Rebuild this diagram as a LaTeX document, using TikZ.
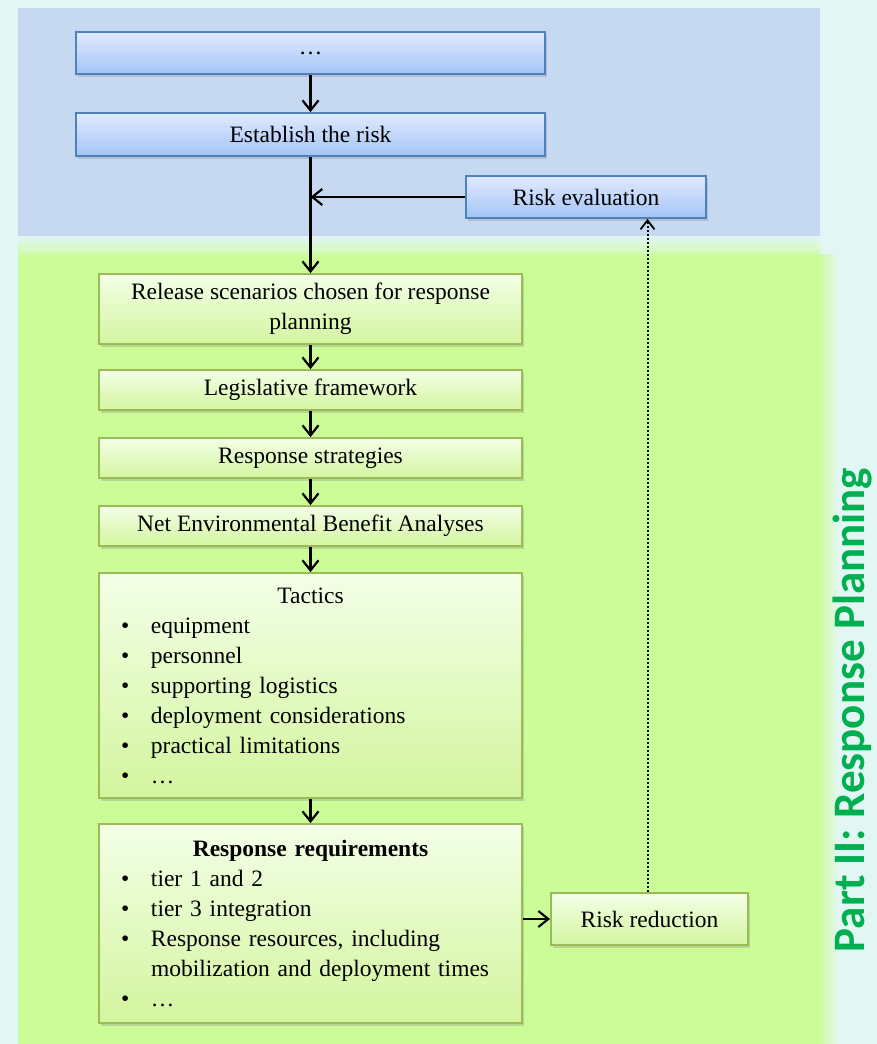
\documentclass[tikz,border=0pt]{standalone}
\usepackage{fontspec}
\setmainfont{Liberation Serif}
\newfontfamily\partfont{Carlito}
\usetikzlibrary{arrows.meta,shadows}

\definecolor{bgcyan}{HTML}{E2F6F4}
\definecolor{panelblue}{HTML}{C6D9F0}
\definecolor{panelgreen}{HTML}{CCFC98}
\definecolor{blueedge}{HTML}{4F81BD}
\definecolor{bluetop}{HTML}{E0EAFF}
\definecolor{bluebot}{HTML}{A4C4F5}
\definecolor{greenedge}{HTML}{9BBB59}
\definecolor{greentop}{HTML}{F3FFE8}
\definecolor{greenbot}{HTML}{D3F59E}
\definecolor{partgreen}{HTML}{00B050}

% bullet line with hanging indent for wrapped text
\newcommand\bitem[1]{\par\noindent\hangindent=42pt\hangafter=1\hspace*{12pt}\makebox[30pt][l]{\textbullet}#1}

\tikzset{
  box/.style={draw, line width=1.8pt, inner xsep=10pt, inner ysep=4pt,
    align=center, font=\fontsize{23.5}{30}\selectfont,
    drop shadow={shadow xshift=2pt, shadow yshift=-3pt, opacity=0.3}},
  bluebox/.style={box, draw=blueedge, top color=bluetop, bottom color=bluebot},
  greenbox/.style={box, draw=greenedge, top color=greentop, bottom color=greenbot},
  flow/.style={line width=2.4pt, -{Straight Barb[length=10pt,width=16pt,line width=2.2pt]}},
  backflow/.style={line width=2pt, dash pattern=on 2pt off 2pt,
    -{Straight Barb[length=9pt,width=14pt,line width=1.8pt]}}
}

\begin{document}
\begin{tikzpicture}[x=1pt,y=-1pt]
  % backdrop and the two phase panels
  \fill[bgcyan] (0,0) rectangle (877,1044);
  \fill[panelblue] (18,8) rectangle (820,236);
  \shade[top color=bgcyan, bottom color=panelgreen!70!bgcyan] (18,236) rectangle (820,254);
  \fill[panelgreen] (18,254) rectangle (820,1044);
  \shade[left color=panelgreen, right color=bgcyan] (819,254) rectangle (838,1044);

  % risk assessment part
  \node[bluebox, minimum width=469pt, minimum height=42pt] (prev) at (310.5,53) {\dots};
  \node[bluebox, minimum width=469pt, minimum height=43pt] (establish) at (310.5,134.5) {Establish the risk};
  \node[bluebox, minimum width=240pt, minimum height=42pt] (evaluation) at (586,197) {Risk evaluation};

  % response planning part
  \node[greenbox, minimum width=423pt, minimum height=70pt] (scenarios) at (310.5,309)
    {Release scenarios chosen for response\\planning};
  \node[greenbox, minimum width=423pt, minimum height=40pt] (legislative) at (310.5,390) {Legislative framework};
  \node[greenbox, minimum width=423pt, minimum height=40pt] (strategies) at (310.5,458) {Response strategies};
  \node[greenbox, minimum width=423pt, minimum height=40pt] (neba) at (310.5,526) {Net Environmental Benefit Analyses};
  \node[greenbox, minimum width=423pt, minimum height=225pt, text width=403pt, align=left] (tactics) at (310.5,685.5)
    {\centering Tactics\par\raggedright
     \bitem{equipment}
     \bitem{personnel}
     \bitem{supporting logistics}
     \bitem{deployment considerations}
     \bitem{practical limitations}
     \bitem{\dots}};
  \node[greenbox, minimum width=423pt, minimum height=199pt, text width=403pt, align=left] (requirements) at (310.5,923.5)
    {\centering\textbf{Response requirements}\par\raggedright
     \bitem{tier 1 and 2}
     \bitem{tier 3 integration}
     \bitem{Response resources, including\newline mobilization and deployment times}
     \bitem{\dots}};
  \node[greenbox, minimum width=197pt, minimum height=52pt] (reduction) at (649.5,919) {Risk reduction};

  % side title
  \node[rotate=90, text=partgreen, font=\partfont\bfseries\fontsize{45}{45}\selectfont] (parttitle) at (853,710)
    {Part II: Response Planning};

  % connectors
  \draw[flow] (prev) -- (establish);
  \draw[flow] (establish) -- (scenarios);
  \coordinate (join) at (establish.south |- evaluation.west);
  \draw[flow] (evaluation.west) -- (join);
  \draw[flow] (scenarios) -- (legislative);
  \draw[flow] (legislative) -- (strategies);
  \draw[flow] (strategies) -- (neba);
  \draw[flow] (neba) -- (tactics);
  \draw[flow] (tactics) -- (requirements);
  \draw[flow] (requirements.east |- reduction.west) -- (reduction.west);
  \draw[backflow] ([xshift=-2pt]reduction.north) -- ([xshift=-2pt]reduction.north |- evaluation.south);
\end{tikzpicture}
\end{document}
